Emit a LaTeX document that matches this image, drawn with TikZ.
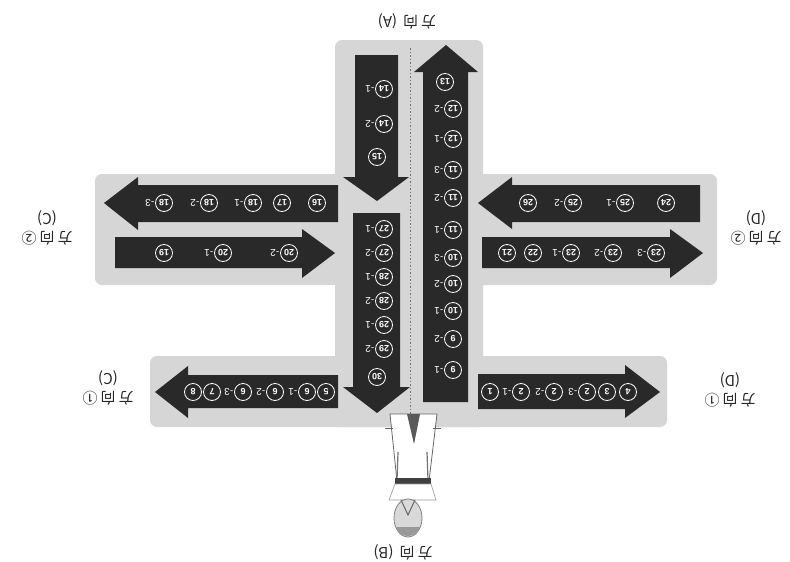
\documentclass[tikz,border=0pt]{standalone}
\usepackage{fontspec}
\newfontfamily\cjk{Noto Sans CJK SC}
\newfontfamily\numfont{Liberation Sans}
% step marker: circled number with an optional "-n" suffix
\newcommand\stepmark[5]{%
  \node[numc] (#1) at (#2,#3) {#4};
  \if\relax\detokenize{#5}\relax\else
    \node[sfx] (#1s) at (#1.east) {-#5};
  \fi}
% loosely spaced caption characters
\newcommand\gap{\hspace{3pt}}
\begin{document}
\begin{tikzpicture}[x=1pt,y=-1pt,
  panel/.style={fill=black!16, rounded corners=7pt},
  darrow/.style={fill=black!84},
  numc/.style={circle, draw=white, line width=0.8pt, minimum size=17pt, inner sep=0pt,
    text=white, rotate=180, font=\numfont\bfseries\fontsize{9}{9}\selectfont},
  sfx/.style={rotate=180, anchor=west, inner sep=0.6pt, text=white,
    font=\numfont\fontsize{10}{10}\selectfont},
  dirlab/.style={rotate=180, align=center, inner sep=0pt, text=black!85,
    font=\cjk\fontsize{15}{19}\selectfont},
  guide/.style={draw=black!55, line width=0.8pt, dash pattern=on 1.5pt off 2pt}]
\useasboundingbox (0,0) rectangle (790,562);
\fill[white] (0,0) rectangle (790,562);

% grey floor panel: vertical lane and two cross bands
\fill[panel] (335,40) rectangle (483,427);
\fill[panel] (95,174) rectangle (717,285);
\fill[panel] (150,356) rectangle (667,427);

% centre guide line
\coordinate (gtop) at (410,48);
\coordinate (gbot) at (410,416);
\draw[guide] (gtop) -- (gbot);

% vertical arrows
\fill[darrow] (423,402) -- (423,72) -- (414,72) -- (446,45) -- (478,72) -- (468,72) -- (468,402) -- cycle;
\fill[darrow] (355,55) -- (398,55) -- (398,177) -- (409,177) -- (377,201) -- (343,177) -- (355,177) -- cycle;
\fill[darrow] (353,213) -- (400,213) -- (400,387) -- (410,387) -- (377,413) -- (343,387) -- (353,387) -- cycle;

% middle band arrows
\fill[darrow] (338,185) -- (138,185) -- (138,177) -- (104,203) -- (138,230) -- (138,222) -- (338,222) -- cycle;
\fill[darrow] (115,237) -- (302,237) -- (302,229) -- (335,253) -- (302,278) -- (302,268) -- (115,268) -- cycle;
\fill[darrow] (700,185) -- (512,185) -- (512,177) -- (478,203) -- (512,229) -- (512,222) -- (700,222) -- cycle;
\fill[darrow] (482,237) -- (670,237) -- (670,229) -- (703,253) -- (670,278) -- (670,268) -- (482,268) -- cycle;

% lower band arrows
\fill[darrow] (338,375) -- (188,375) -- (188,366) -- (155,392) -- (188,418) -- (188,408) -- (338,408) -- cycle;
\fill[darrow] (478,374) -- (625,374) -- (625,365) -- (660,392) -- (625,418) -- (625,409) -- (478,409) -- cycle;

% step numbers along the centre lane
\stepmark{u1}{453}{370}{9}{1}
\stepmark{u2}{453}{339}{9}{2}
\stepmark{u3}{453}{311}{10}{1}
\stepmark{u4}{453}{284}{10}{2}
\stepmark{u5}{453}{258}{10}{3}
\stepmark{u6}{453}{230}{11}{1}
\stepmark{u7}{453}{198}{11}{2}
\stepmark{u8}{453}{170}{11}{3}
\stepmark{u9}{453}{139}{12}{1}
\stepmark{u10}{453}{109}{12}{2}
\stepmark{u11}{445}{82}{13}{}

\stepmark{a1}{384}{89}{14}{1}
\stepmark{a2}{384}{124}{14}{2}
\stepmark{a3}{377}{157}{15}{}

\stepmark{b1}{384}{229}{27}{1}
\stepmark{b2}{384}{253}{27}{2}
\stepmark{b3}{384}{277}{28}{1}
\stepmark{b4}{384}{301}{28}{2}
\stepmark{b5}{384}{325}{29}{1}
\stepmark{b6}{384}{349}{29}{2}
\stepmark{b7}{377}{377}{30}{}

% step numbers along the cross bands
\stepmark{c1}{317}{203}{16}{}
\stepmark{c2}{282}{203}{17}{}
\stepmark{c3}{253}{203}{18}{1}
\stepmark{c4}{209}{203}{18}{2}
\stepmark{c5}{164}{203}{18}{3}

\stepmark{d1}{164}{253}{19}{}
\stepmark{d2}{223}{253}{20}{1}
\stepmark{d3}{289}{253}{20}{2}

\stepmark{e1}{507}{253}{21}{}
\stepmark{e2}{533}{253}{22}{}
\stepmark{e3}{571}{253}{23}{1}
\stepmark{e4}{613}{253}{23}{2}
\stepmark{e5}{656}{253}{23}{3}

\stepmark{f1}{666}{203}{24}{}
\stepmark{f2}{625}{203}{25}{1}
\stepmark{f3}{573}{203}{25}{2}
\stepmark{f4}{528}{203}{26}{}

\stepmark{g1}{490}{392}{1}{}
\stepmark{g2}{521}{392}{2}{1}
\stepmark{g3}{554}{392}{2}{2}
\stepmark{g4}{587}{392}{2}{3}
\stepmark{g5}{607}{392}{3}{}
\stepmark{g6}{628}{392}{4}{}

\stepmark{h1}{326}{392}{5}{}
\stepmark{h2}{307}{392}{6}{1}
\stepmark{h3}{275}{392}{6}{2}
\stepmark{h4}{243}{392}{6}{3}
\stepmark{h5}{212}{392}{7}{}
\stepmark{h6}{193}{392}{8}{}

% direction captions
\node[dirlab] (dA) at (407,21) {方\gap 向\gap\gap (A)};
\node[dirlab] (dB) at (403,552) {方\gap 向\gap\gap (B)};
\node[dirlab] (dC2) at (47,228) {方\gap 向\gap ②\\(C)};
\node[dirlab] (dD2) at (756,228) {方\gap 向\gap ②\\(D)};
\node[dirlab] (dC1) at (108,388) {方\gap 向\gap ①\\(C)};
\node[dirlab] (dD1) at (730,390) {方\gap 向\gap ①\\(D)};

% standing figure
\filldraw[fill=white, draw=black!60, line width=0.8pt] (390,414) -- (437,414) -- (429,481) -- (397,481) -- cycle;
\fill[black!65] (407,414) -- (420,414) -- (414,444) -- cycle;
\draw[black!60, line width=1pt] (385,428) -- (393,428) (433,428) -- (441,428);
\draw[black!55, line width=1.2pt] (398,452) -- (397,480) (427,452) -- (428,480);
\fill[black!75] (395,478) rectangle (431,484);
\filldraw[fill=white, draw=black!40, line width=0.6pt] (395,484) -- (431,484) -- (436,500) -- (389,500) -- cycle;
\filldraw[fill=black!15, draw=black!50, line width=0.8pt] (408,518) ellipse (14 and 19);
\draw[black!60, line width=1pt] (401,500) -- (408,515) -- (415,500);
\fill[black!40] (396,527) .. controls (400,539) and (416,539) .. (420,527) -- cycle;
\end{tikzpicture}
\end{document}
